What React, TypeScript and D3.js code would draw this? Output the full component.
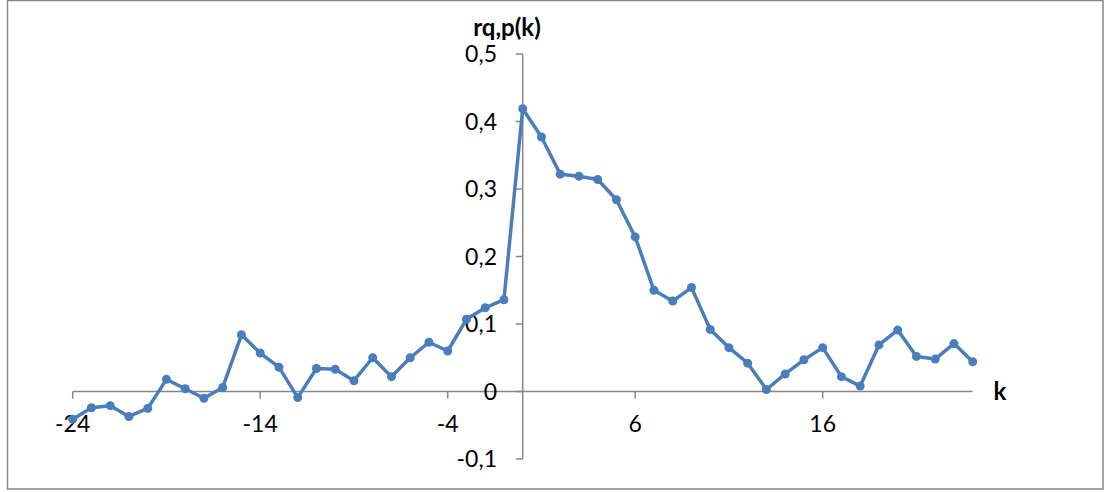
import React from "react";
import * as d3 from "d3";

// Cross-correlation coefficients r_{q,p}(k) for lags k = -24 … 24
const lags: number[] = [
  -24, -23, -22, -21, -20, -19, -18, -17, -16, -15, -14, -13, -12, -11, -10, -9, -8,
  -7, -6, -5, -4, -3, -2, -1, 0, 1, 2, 3, 4, 5, 6, 7, 8, 9, 10, 11, 12, 13, 14, 15, 16,
  17, 18, 19, 20, 21, 22, 23, 24,
];
const correlation: number[] = [
  -0.041, -0.024, -0.021, -0.037, -0.025, 0.018, 0.004, -0.01, 0.006, 0.084, 0.057,
  0.036, -0.009, 0.034, 0.033, 0.016, 0.05, 0.022, 0.05, 0.073, 0.06, 0.107, 0.124,
  0.136, 0.419, 0.377, 0.322, 0.319, 0.314, 0.284, 0.229, 0.15, 0.134, 0.154, 0.092,
  0.065, 0.042, 0.003, 0.026, 0.047, 0.065, 0.022, 0.008, 0.069, 0.091, 0.052, 0.048,
  0.071, 0.044,
];
const xTicks: number[] = [-24, -14, -4, 6, 16];
const yTicks: number[] = [-0.1, 0, 0.1, 0.2, 0.3, 0.4, 0.5];

const W = 1104;
const H = 492;
const FONT = "Lato, 'Open Sans', sans-serif";
const AXIS = "#868686";
const LINE = "#4A7EBB";

export default function App() {
  const x = d3.scaleLinear().domain([-24, 24]).range([72.7, 972.7]);
  const y = d3.scaleLinear().domain([-0.1, 0.5]).range([459, 54]);
  // decimal comma and plain hyphen for negatives
  const fmt = (v: number) =>
    d3.format(".1~f")(v).replace(".", ",").replace("\u2212", "-");

  const pts = lags.map((k, i) => [k, correlation[i]] as [number, number]);
  const line = d3
    .line<[number, number]>()
    .x((d) => x(d[0]))
    .y((d) => y(d[1]));

  const x0 = x(0);
  const y0 = y(0);

  return (
    <svg
      width={W}
      height={H}
      style={{ position: "absolute", left: 0, top: 0, background: "#fff" }}
    >
      <rect x={0} y={0} width={W} height={H} fill="#fff" />
      <rect
        x={7.5}
        y={0.5}
        width={1095.5}
        height={488.5}
        fill="none"
        stroke={AXIS}
        strokeWidth={1.5}
      />

      {/* horizontal axis */}
      <line x1={x(-24)} x2={x(24)} y1={y0} y2={y0} stroke={AXIS} strokeWidth={1.5} />
      {xTicks.map((t) => (
        <g key={"xt" + t}>
          <line x1={x(t)} x2={x(t)} y1={y0} y2={y0 + 7} stroke={AXIS} strokeWidth={1.5} />
          <text
            x={x(t)}
            y={y0 + 40}
            textAnchor="middle"
            fontFamily={FONT}
            fontSize={23}
            fill="#000"
          >
            {String(t)}
          </text>
        </g>
      ))}
      <text
        x={1000}
        y={y0 + 8}
        textAnchor="middle"
        fontFamily={FONT}
        fontSize={24}
        fontWeight="bold"
        fill="#000"
      >
        k
      </text>

      {/* vertical axis */}
      <line x1={x0} x2={x0} y1={y(0.5)} y2={y(-0.1)} stroke={AXIS} strokeWidth={1.5} />
      {yTicks.map((t) => (
        <g key={"yt" + t}>
          <line x1={x0 - 7} x2={x0} y1={y(t)} y2={y(t)} stroke={AXIS} strokeWidth={1.5} />
          <text
            x={497}
            y={y(t) + 8}
            textAnchor="end"
            fontFamily={FONT}
            fontSize={23}
            fill="#000"
          >
            {fmt(t)}
          </text>
        </g>
      ))}
      <text
        x={507}
        y={36}
        textAnchor="middle"
        fontFamily={FONT}
        fontSize={24}
        fontWeight="bold"
        fill="#000"
      >
        rq,p(k)
      </text>

      {/* series */}
      <path
        d={line(pts) ?? ""}
        fill="none"
        stroke={LINE}
        strokeWidth={3.5}
        strokeLinejoin="round"
      />
      {pts.map((p, i) => (
        <circle key={"pt" + i} cx={x(p[0])} cy={y(p[1])} r={4.5} fill={LINE} />
      ))}
    </svg>
  );
}
